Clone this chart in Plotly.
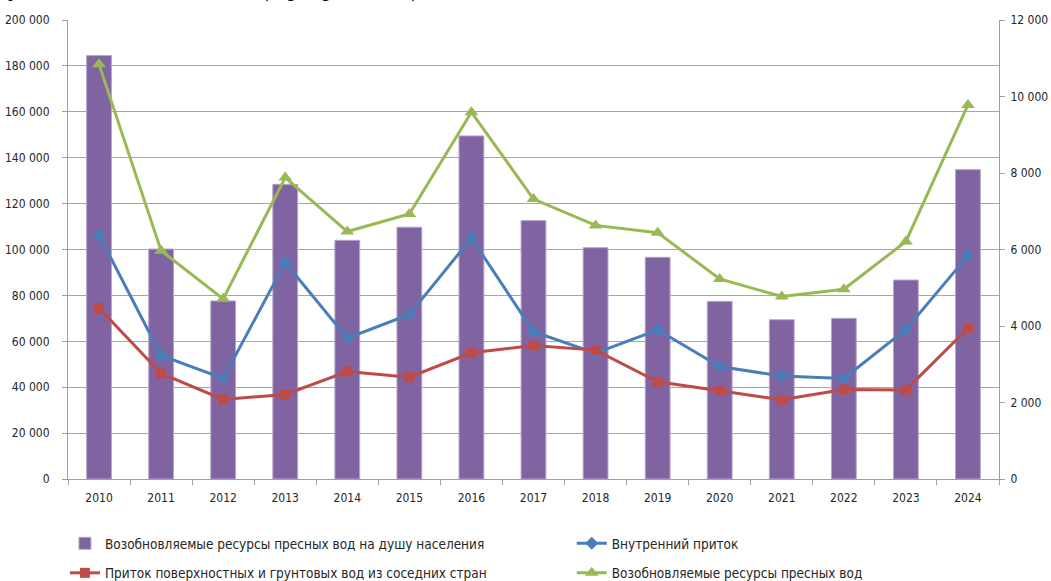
import plotly.graph_objects as go

years = ["2010", "2011", "2012", "2013", "2014", "2015", "2016", "2017",
         "2018", "2019", "2020", "2021", "2022", "2023", "2024"]

# per-capita renewable freshwater resources (left axis)
per_capita = [184500, 100200, 77600, 128400, 104000, 109700, 149500, 112600,
              100800, 96600, 77400, 69400, 70000, 86700, 134800]

# flows (right axis)
internal_inflow = [6380, 3230, 2630, 5660, 3680, 4300, 6300, 3850,
                   3290, 3900, 2940, 2690, 2630, 3910, 5840]
transboundary_inflow = [4470, 2760, 2080, 2210, 2810, 2660, 3300, 3490,
                        3370, 2540, 2310, 2070, 2340, 2330, 3940]
renewable_total = [10840, 5970, 4710, 7880, 6470, 6930, 9590, 7320,
                   6630, 6440, 5230, 4770, 4960, 6210, 9780]

names = ["Возобновляемые ресурсы пресных вод на душу населения",
         "Внутренний приток",
         "Приток поверхностных и грунтовых вод из соседних стран",
         "Возобновляемые ресурсы пресных вод"]

FAMILY = "DejaVu Sans Condensed, DejaVu Sans, sans-serif"
tick_font = dict(family=FAMILY, size=12, color="#262626")
legend_font = dict(family=FAMILY, size=13.5, color="#262626")

fig = go.Figure()
fig.add_trace(go.Bar(
    x=years, y=per_capita, name=names[0], width=0.4,
    marker=dict(color="#8064a2", line=dict(color="#b7a6cc", width=1)),
    yaxis="y", legend="legend", legendgroup="a"))
fig.add_trace(go.Scatter(
    x=years, y=internal_inflow, name=names[1], mode="lines+markers",
    line=dict(color="#4a7ebb", width=3),
    marker=dict(symbol="diamond", size=10, color="#4a7ebb"),
    yaxis="y2", legend="legend2", legendgroup="b"))
fig.add_trace(go.Scatter(
    x=years, y=transboundary_inflow, name=names[2], mode="lines+markers",
    line=dict(color="#be4b48", width=3),
    marker=dict(symbol="square", size=10, color="#be4b48"),
    yaxis="y2", legend="legend", legendgroup="c"))
fig.add_trace(go.Scatter(
    x=years, y=renewable_total, name=names[3], mode="lines+markers",
    line=dict(color="#98b954", width=3),
    marker=dict(symbol="triangle-up", size=12, color="#98b954"),
    yaxis="y2", legend="legend2", legendgroup="d"))

legend_common = dict(orientation="v", xref="container", yref="container",
                     xanchor="left", y=0.0912, yanchor="top",
                     font=legend_font, traceorder="grouped", tracegroupgap=9,
                     itemclick=False, bgcolor="rgba(0,0,0,0)")

fig.update_layout(
    width=1051, height=581,
    margin=dict(l=68, r=52, t=20, b=102, autoexpand=False),
    paper_bgcolor="white", plot_bgcolor="white",
    separators=", ",
    showlegend=True,
    legend=dict(x=0.0618, **legend_common),
    legend2=dict(x=0.544, **legend_common),
    xaxis=dict(type="category", range=[-0.5, len(years) - 0.5],
               tickson="boundaries", ticks="outside", ticklen=5,
               tickcolor="#a0a0a0", showline=True, linecolor="#a0a0a0", linewidth=1,
               showgrid=False, tickfont=tick_font, ticklabelstandoff=8),
    yaxis=dict(range=[0, 200000], dtick=20000, tickformat=",d", ticks="outside",
               ticklen=5, tickcolor="#a0a0a0", showline=True, linecolor="#a0a0a0",
               linewidth=1, showgrid=True, gridcolor="#a6a6a6", gridwidth=1,
               zeroline=False, tickfont=tick_font, ticklabelstandoff=10),
    yaxis2=dict(range=[0, 12000], dtick=2000, tickformat=",d", overlaying="y",
                side="right", ticks="outside", ticklen=5, tickcolor="#a0a0a0",
                showline=True, linecolor="#a0a0a0", linewidth=1, showgrid=False,
                zeroline=False, tickfont=tick_font, ticklabelstandoff=3),
    annotations=[dict(
        text="у Казахстана за 15 лет (в разрезе лет)",
        xref="paper", yref="paper", x=-0.067, y=1.034,
        xanchor="left", yanchor="bottom", showarrow=False,
        font=dict(family="Liberation Serif, serif", size=26, color="black"))],
)

fig.write_html("out.html")
